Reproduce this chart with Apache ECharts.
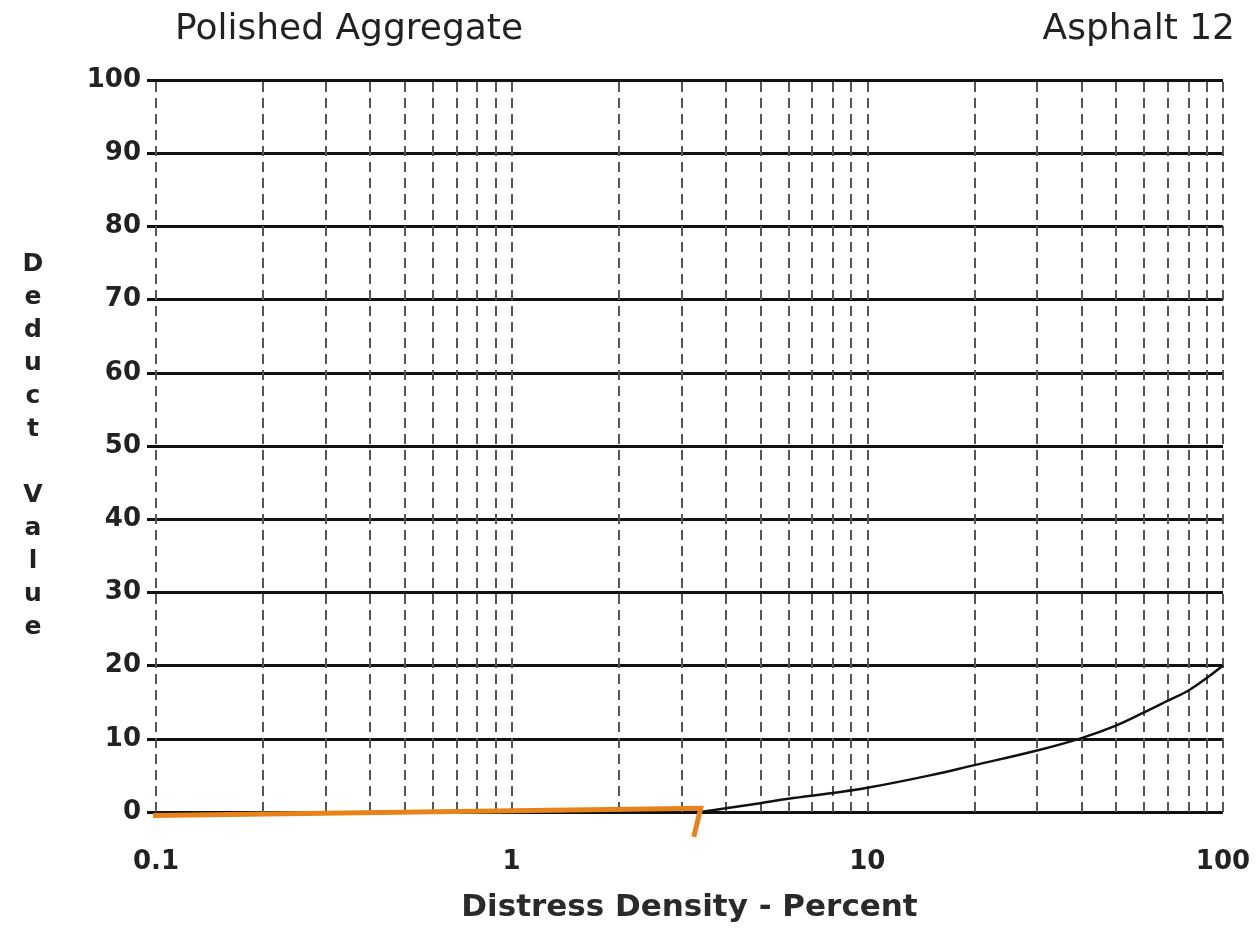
<!DOCTYPE html>
<html><head><meta charset="utf-8">
<script src="https://cdn.jsdelivr.net/npm/echarts@6/dist/echarts.min.js"></script>
<style>html,body{margin:0;padding:0;background:#fff}#c{width:1258px;height:933px}</style>
</head><body><div id="c"></div>
<script>
// ---- data ----
const titleLeft = 'Polished Aggregate';
const titleRight = 'Asphalt 12';
const xName = 'Distress Density - Percent';
const yName = 'Deduct Value';
const xMin = 0.1, xMax = 100;
const yTicks = [0, 10, 20, 30, 40, 50, 60, 70, 80, 90, 100];
const gridX = [0.1,0.2,0.3,0.4,0.5,0.6,0.7,0.8,0.9,1,2,3,4,5,6,7,8,9,10,20,30,40,50,60,70,80,90,100];
const curveX = [3.4, 4, 5, 6, 8, 10, 15, 20, 30, 40, 50, 60, 70, 80, 90, 100];
const curveY = [0, 0.5, 1.2, 1.8, 2.6, 3.3, 5.0, 6.4, 8.4, 10.1, 11.8, 13.6, 15.2, 16.6, 18.3, 20];
const markX = [0.092, 3.4, 3.25];
const markY = [-0.5, 0.5, -3.4];

const FONT = 'DejaVu Sans';
const chart = echarts.init(document.getElementById('c'), null, {renderer: 'canvas'});
const zip = (a, b) => a.map((v, i) => [v, b[i]]);

chart.setOption({
  animation: false,
  backgroundColor: '#fff',
  title: [
    {text: titleLeft, left: 175, top: 12, padding: 0,
     textStyle: {fontFamily: FONT, fontSize: 36, fontWeight: 'normal', color: '#222'}},
    {text: titleRight, right: 23, top: 12, padding: 0,
     textStyle: {fontFamily: FONT, fontSize: 36, fontWeight: 'normal', color: '#222'}}
  ],
  grid: {left: 156, right: 35, top: 80, bottom: 121, containLabel: false},
  xAxis: {
    type: 'log', logBase: 10, min: xMin, max: xMax,
    name: xName, nameLocation: 'middle', nameGap: 96,
    nameTextStyle: {fontFamily: FONT, fontSize: 31, fontWeight: 'bold', color: '#2a2a2a', verticalAlign: 'middle'},
    axisLine: {show: false}, axisTick: {show: false}, splitLine: {show: false},
    axisLabel: {fontFamily: FONT, fontSize: 26, fontWeight: 'bold', color: '#222', margin: 37,
      formatter: v => String(+(+v).toPrecision(3))}
  },
  yAxis: {
    type: 'value', min: yTicks[0], max: yTicks[yTicks.length - 1], interval: 10,
    name: yName.split('').map(c => c === ' ' ? '' : c).join('\n'),
    nameLocation: 'middle', nameRotate: 0, nameGap: 123,
    nameTextStyle: {fontFamily: FONT, fontSize: 25, fontWeight: 'bold', color: '#222',
      lineHeight: 33, align: 'center', verticalAlign: 'middle'},
    axisLine: {show: false},
    axisTick: {show: true, length: 9, lineStyle: {color: '#111', width: 3}},
    splitLine: {show: true, lineStyle: {color: '#111', width: 3}},
    axisLabel: {fontFamily: FONT, fontSize: 26, fontWeight: 'bold', color: '#222', margin: 15}
  },
  series: [
    {
      type: 'line', data: [], silent: true,
      markLine: {
        silent: true, symbol: 'none', label: {show: false},
        emphasis: {disabled: true},
        lineStyle: {type: [10, 6], color: '#555', width: 2},
        data: gridX.map(v => ({xAxis: v}))
      }
    },
    {
      type: 'line', data: zip(curveX, curveY), smooth: 0.4, showSymbol: false,
      lineStyle: {color: '#111', width: 2.5}, z: 5
    },
    {
      type: 'line', data: zip(markX, markY), showSymbol: false, clip: false,
      lineStyle: {color: '#E8821A', width: 5, cap: 'butt', join: 'miter'}, z: 10
    }
  ]
});
</script></body></html>
